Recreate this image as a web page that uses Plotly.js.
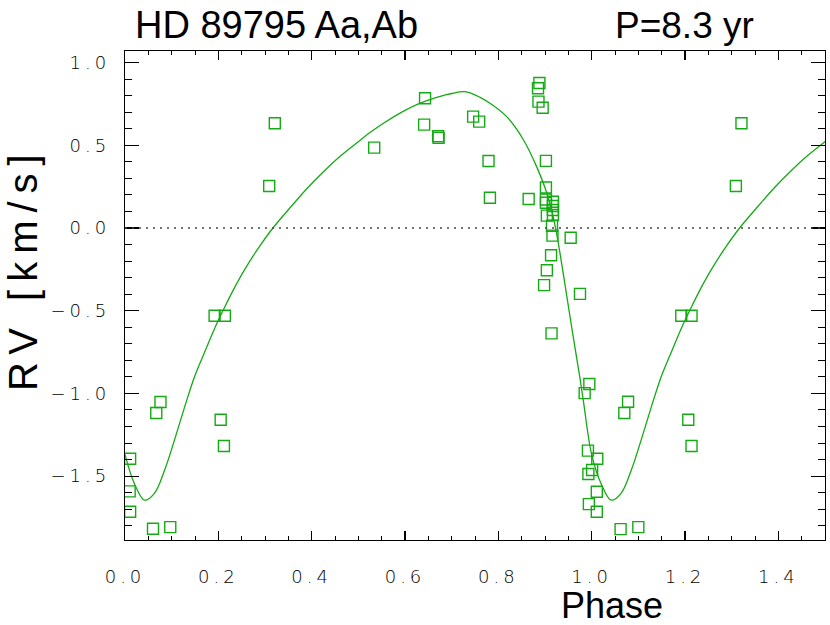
<!DOCTYPE html>
<html><head><meta charset="utf-8">
<script src="https://cdn.plot.ly/plotly-3.0.1.min.js"></script>
<style>
html,body{margin:0;padding:0;background:#fff;}
.xtick text, .ytick text { letter-spacing: 4px; }
.annotation[data-index="3"] text { letter-spacing: 8px; }
</style>
</head><body>
<div id="chart" style="width:830px;height:625px;"></div>
<script>
const obsPhase = [0.011, 0.010, 0.011, 0.060, 0.097, 0.076, 0.067, 0.192, 0.214, 0.205, 0.212,
  0.309, 0.321, 0.534, 0.641, 0.643, 0.671, 0.672, 0.746, 0.759, 0.779, 0.782, 0.865,
  0.888, 0.885, 0.886, 0.895, 0.902, 0.902, 0.902, 0.902, 0.917, 0.917, 0.917, 0.917,
  0.904, 0.915, 0.916, 0.955, 0.913, 0.904, 0.898, 0.975, 0.914, 0.995, 0.985, 0.992,
  1.001, 0.993, 0.994,
  1.012, 1.011, 1.011, 1.062, 1.100, 1.078, 1.070, 1.192, 1.214, 1.207, 1.214, 1.309, 1.321];
const obsRV = [-1.395, -1.592, -1.715, -1.818, -1.808, -1.052, -1.118, -0.530, -0.530, -1.159, -1.318,
  0.254, 0.633, 0.486, 0.625, 0.784, 0.555, 0.545, 0.673, 0.643, 0.405, 0.183, 0.175,
  0.877, 0.845, 0.764, 0.727, 0.406, 0.245, 0.172, 0.153, 0.159, 0.133, 0.109, 0.079,
  0.075, 0.014, -0.046, -0.059, -0.165, -0.255, -0.345, -0.398, -0.637, -0.943, -0.998, -1.346,
  -1.463, -1.487, -1.669,
  -1.395, -1.594, -1.715, -1.820, -1.808, -1.050, -1.118, -0.530, -0.530, -1.159, -1.318, 0.254, 0.633];

// Orbit fit over one cycle (phase, RV)
const fitPhase = [0.000, 0.020, 0.042, 0.063, 0.085, 0.106, 0.128, 0.149, 0.171, 0.192, 0.214,
  0.235, 0.256, 0.285, 0.317, 0.357, 0.392, 0.428, 0.464, 0.500, 0.525, 0.553, 0.596,
  0.630, 0.668, 0.700, 0.728, 0.761, 0.782, 0.818, 0.854, 0.882, 0.904, 0.922, 0.939,
  0.957, 0.975, 0.982, 1.000];
const fitRV = [-1.37, -1.544, -1.645, -1.604, -1.463, -1.282, -1.080, -0.899, -0.748, -0.607, -0.476,
  -0.359, -0.253, -0.125, 0.000, 0.133, 0.245, 0.348, 0.441, 0.522, 0.577, 0.632, 0.705,
  0.752, 0.790, 0.813, 0.824, 0.790, 0.754, 0.673, 0.532, 0.371, 0.210, 0.008, -0.274,
  -0.597, -0.909, -1.04, -1.37];

const xTicks = [0.0, 0.2, 0.4, 0.6, 0.8, 1.0, 1.2, 1.4];
const yTicks = [-1.5, -1.0, -0.5, 0.0, 0.5, 1.0];
const titleLeft = 'HD 89795 Aa,Ab';
const titleRight = 'P=8.3 yr';

// second cycle of the fit (phase + 1), so the curve spans 0..1.5
const curveX = fitPhase.concat(fitPhase.slice(1).map(p => p + 1));
const curveY = fitRV.concat(fitRV.slice(1));

const green = 'rgb(20,170,20)';

const traces = [
  {x: curveX, y: curveY, type: 'scatter', mode: 'lines',
   line: {color: green, width: 1.3, shape: 'spline', smoothing: 1}, hoverinfo: 'skip'},
  {x: obsPhase, y: obsRV, type: 'scatter', mode: 'markers',
   marker: {symbol: 'square-open', size: 11, color: green, line: {color: green, width: 1.4}}}
];

const tickFont = {family: 'DejaVu Sans, Liberation Sans, sans-serif', size: 18, weight: 300, color: '#000'};
const axisCommon = {
  showgrid: false, zeroline: false, showline: true, linecolor: '#000', linewidth: 1.2,
  mirror: 'allticks', ticks: 'inside', tickcolor: '#000', tickwidth: 1.2,
  tickformat: '.1f', tickfont: tickFont
};

const layout = {
  width: 830, height: 625,
  margin: {l: 125, r: 5, t: 51, b: 85},
  paper_bgcolor: '#fff', plot_bgcolor: '#fff',
  showlegend: false,
  xaxis: Object.assign({}, axisCommon, {
    range: [0, 1.5], tickvals: xTicks, ticklen: 9, ticklabelstandoff: 20,
    minor: {dtick: 0.05, tick0: 0, ticks: 'inside', ticklen: 4, tickcolor: '#000', tickwidth: 1}
  }),
  yaxis: Object.assign({}, axisCommon, {
    range: [-1.886, 1.07], tickvals: yTicks, ticklen: 14, ticklabelstandoff: 10,
    minor: {dtick: 0.1, tick0: 0, ticks: 'inside', ticklen: 7, tickcolor: '#000', tickwidth: 1}
  }),
  shapes: [
    {type: 'line', xref: 'paper', x0: 0, x1: 1, yref: 'y', y0: 0, y1: 0,
     line: {color: '#444', width: 1.5, dash: '2px,5px'}}
  ],
  annotations: [
    {text: titleLeft, xref: 'paper', yref: 'paper', x: 0.217, y: 1.053, xanchor: 'center', yanchor: 'middle',
     showarrow: false, font: {family: 'Liberation Sans, Arial, sans-serif', size: 38, color: '#000'}},
    {text: titleRight, xref: 'paper', yref: 'paper', x: 0.799, y: 1.053, xanchor: 'center', yanchor: 'middle',
     showarrow: false, font: {family: 'Liberation Sans, Arial, sans-serif', size: 37, color: '#000'}},
    {text: 'Phase', xref: 'paper', yref: 'paper', x: 0.696, y: -0.133, xanchor: 'center', yanchor: 'middle',
     showarrow: false, font: {family: 'Liberation Sans, Arial, sans-serif', size: 36, color: '#000'}},
    {text: 'RV [km/s]', xref: 'paper', yref: 'paper', x: -0.146, y: 0.556, xanchor: 'center', yanchor: 'middle',
     textangle: -90, showarrow: false, font: {family: 'Liberation Sans, Arial, sans-serif', size: 40, color: '#000'}}
  ]
};

Plotly.newPlot('chart', traces, layout, {displayModeBar: false, staticPlot: true});
</script>
</body></html>
